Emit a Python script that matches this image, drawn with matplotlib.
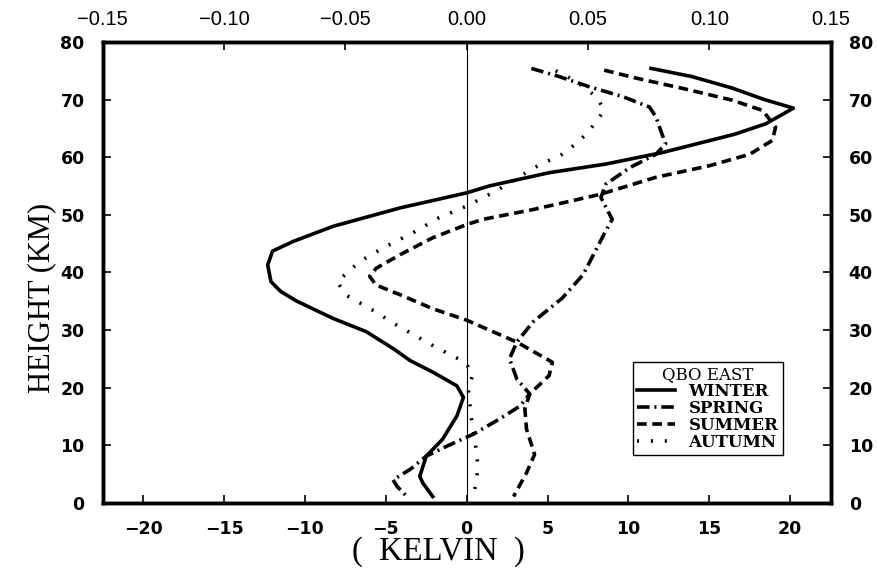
import numpy as np
import matplotlib.pyplot as plt

# Data (height in km, temperature anomaly in K)
winter_h = [75.4, 74.0, 72.0, 70.0, 68.5, 65.8, 64.0, 60.8, 58.8, 57.3, 55.0, 53.8, 51.2, 48.0,
            45.4, 43.7, 41.3, 38.4, 36.7, 35.0, 32.0, 29.7, 26.7, 24.7, 22.7, 20.3, 18.3, 15.1,
            11.0, 8.1, 4.6, 3.4, 1.1]
winter_k = [11.4, 13.9, 16.4, 18.4, 20.2, 18.5, 16.6, 12.1, 8.6, 5.1, 1.4, 0.0, -4.1, -8.25,
            -10.7, -12.0, -12.3, -12.1, -11.5, -10.5, -8.25, -6.2, -4.5, -3.5, -2.1, -0.6, -0.2, -0.6,
            -1.5, -2.5, -2.9, -2.7, -2.1]

spring_h = [75.4, 74.0, 72.2, 70.5, 68.7, 67.0, 64.6, 62.3, 60.5, 58.2, 55.3, 53.0, 49.2, 47.2,
            39.6, 35.5, 31.4, 27.9, 25.0, 21.5, 18.9, 16.8, 14.5, 11.9, 9.8, 8.1, 5.8, 4.0, 2.85, 1.1]
spring_k = [4.0, 5.7, 7.6, 9.65, 11.3, 11.7, 12.0, 12.3, 11.7, 10.1, 8.6, 8.3, 9.0, 8.6,
            7.2, 5.9, 4.1, 3.1, 2.65, 3.1, 3.9, 3.3, 2.0, 0.4, -1.25, -2.5, -3.5, -4.55, -4.3, -3.7]

summer_h = [75.1, 73.7, 71.9, 69.9, 68.1, 65.2, 62.9, 60.5, 58.5, 56.5, 53.5, 50.9, 49.2, 48.3,
            46.0, 43.1, 40.7, 39.3, 37.8, 36.1, 33.7, 31.7, 27.9, 24.4, 22.1, 18.9, 16.3, 12.8,
            8.4, 5.2, 1.1]
summer_k = [8.5, 10.5, 13.4, 16.4, 18.3, 19.1, 18.9, 17.5, 15.0, 11.7, 8.2, 4.1, 1.0, 0.0,
            -2.1, -4.1, -5.6, -6.0, -5.6, -4.1, -2.1, 0.0, 3.1, 5.3, 5.1, 3.9, 3.6, 3.7,
            4.2, 3.7, 2.9]

autumn_h = [75.0, 73.4, 71.9, 70.2, 68.1, 66.1, 64.0, 62.2, 60.5, 58.2, 54.1, 51.5, 49.5, 46.9,
            44.5, 41.9, 38.4, 36.1, 33.6, 30.8, 27.0, 24.4, 22.4, 19.8, 17.1, 14.5, 9.0, 6.3, 3.7, 1.1]
autumn_k = [5.5, 6.6, 7.4, 8.1, 8.5, 8.0, 7.4, 6.7, 5.9, 4.2, 1.8, 0.0, -1.7, -3.3,
            -5.0, -6.6, -8.0, -7.5, -5.9, -4.3, -1.9, -0.1, 0.4, 0.1, 0.2, 0.3, 0.6, 0.7, 0.6, 0.4]

bottom_ticks = [-20, -15, -10, -5, 0, 5, 10, 15, 20]
top_ticks = [-0.15, -0.10, -0.05, 0.00, 0.05, 0.10, 0.15]
height_ticks = [0, 10, 20, 30, 40, 50, 60, 70, 80]

plt.rcParams['lines.scale_dashes'] = False

fig = plt.figure(figsize=(8.78, 5.82), dpi=100)
ax = fig.add_axes([0.117, 0.136, 0.829, 0.792])

ax.axvline(0, color='black', lw=0.8)

lw = 2.6
ax.plot(winter_k, winter_h, '-', color='black', lw=lw, label='WINTER')
ax.plot(spring_k, spring_h, color='black', lw=lw, dashes=(9, 3.5, 1.5, 3.5), label='SPRING')
ax.plot(summer_k, summer_h, color='black', lw=lw, dashes=(7, 4), label='SUMMER')
ax.plot(autumn_k, autumn_h, color='black', lw=lw, dashes=(1.5, 8.5), label='AUTUMN')

ax.set_xlim(-22.5, 22.5)
ax.set_ylim(0, 80)

for s in ax.spines.values():
    s.set_linewidth(2.5)

tick_font = dict(family='DejaVu Sans', weight='bold', size=12.5)
ax.set_xticks(bottom_ticks)
ax.set_xticklabels(['\u2212' + str(-t) if t < 0 else str(t) for t in bottom_ticks], fontdict=tick_font)
ax.set_yticks(height_ticks)
ax.set_yticklabels([str(t) for t in height_ticks], fontdict=tick_font)
ax.tick_params(axis='x', direction='in', length=6, width=1.2, pad=12)
ax.tick_params(axis='y', direction='in', length=6, width=1.2, pad=13, right=True, labelright=True)
for lab in ax.get_yticklabels(which='both'):
    lab.set_fontweight('bold')
    lab.set_fontsize(12.5)

# top axis in other units
ax2 = ax.twiny()
ax2.set_xlim(-0.15, 0.15)
ax2.set_xticks(top_ticks)
ax2.set_xticklabels(['\u2212%.2f' % -t if t < 0 else '%.2f' % t for t in top_ticks],
                    fontdict=dict(family='Liberation Sans', size=14.5))
ax2.tick_params(axis='x', direction='in', length=6, width=1.2, pad=9)
for s in ax2.spines.values():
    s.set_linewidth(2.5)

ax.set_ylabel('HEIGHT (KM)', family='Liberation Serif', size=22)
ax.yaxis.set_label_coords(-0.064, 0.445)
ax.set_xlabel('(  KELVIN  )', family='Liberation Serif', size=23.5)
ax.xaxis.set_label_coords(0.4615, -0.072)

leg = ax.legend(title='QBO EAST', loc='lower right', bbox_to_anchor=(0.934, 0.103),
                prop=dict(family='DejaVu Serif', weight='bold', size=12),
                title_fontproperties=dict(family='DejaVu Serif', size=12),
                frameon=True, fancybox=False, edgecolor='black', framealpha=1,
                handlelength=2.3, handletextpad=0.8, labelspacing=0.0, borderpad=0.25,
                borderaxespad=0)
leg.get_frame().set_linewidth(1.0)

fig.savefig('out.png', dpi=100)
